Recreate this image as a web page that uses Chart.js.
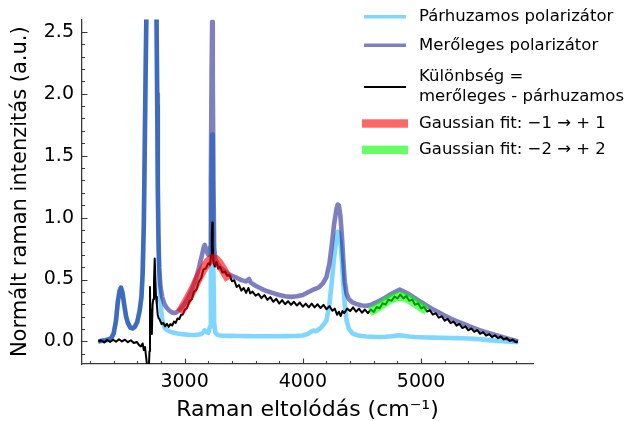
<!DOCTYPE html>
<html><head><meta charset="utf-8">
<script src="https://cdn.jsdelivr.net/npm/chart.js@4.4.1/dist/chart.umd.min.js"></script>
<style>html,body{margin:0;padding:0;background:#fff}canvas{display:block}</style>
</head><body>
<canvas id="c" width="631" height="421"></canvas>
<script>
// Raman shift (cm^-1) for the two polarizer spectra
const ramanShift = [2270,2300,2330,2360,2380,2400,2420,2435,2450,2462,2475,2490,2505,2520,2540,2560,2580,2600,2620,2635,
  2645,2655,2662,2668,2676,2690,2720,2750,2762,2768,2773,2779,2785,2795,2810,2830,2850,2870,2890,2910,
  2930,2950,2970,3000,3030,3060,3090,3120,3145,3160,3170,3185,3200,3215,3222,3228,3233,3238,3244,3250,
  3260,3280,3300,3330,3360,3400,3440,3480,3520,3545,3560,3600,3650,3700,3750,3800,3850,3900,3950,4000,
  4040,4070,4090,4110,4140,4170,4200,4225,4245,4265,4285,4295,4305,4318,4330,4342,4355,4370,4390,4420,
  4460,4500,4540,4580,4620,4660,4700,4750,4790,4820,4850,4900,4950,5000,5050,5100,5150,5200,5250,5300,
  5350,5400,5450,5500,5550,5600,5650,5700,5750,5800,5820];
const parallel = [0.000,0.005,0.010,0.018,0.028,0.065,0.17,0.32,0.41,0.435,0.39,0.29,0.20,0.15,0.112,0.105,0.12,0.16,0.25,0.36,
  0.55,0.95,1.5,2.0,2.6,3.6,4.3,3.6,2.6,1.9,1.2,0.75,0.52,0.32,0.18,0.11,0.092,0.082,0.075,0.07,
  0.066,0.063,0.06,0.057,0.054,0.052,0.053,0.056,0.062,0.075,0.09,0.075,0.07,0.12,0.55,1.25,1.67,1.25,0.55,0.15,
  0.07,0.052,0.048,0.046,0.045,0.045,0.044,0.044,0.043,0.044,0.043,0.042,0.042,0.042,0.042,0.042,0.043,0.044,0.045,0.048,
  0.06,0.08,0.088,0.082,0.10,0.13,0.17,0.30,0.48,0.68,0.84,0.885,0.88,0.80,0.66,0.47,0.29,0.17,0.10,0.065,
  0.05,0.044,0.04,0.038,0.036,0.036,0.038,0.042,0.047,0.05,0.046,0.04,0.036,0.034,0.032,0.031,0.03,0.029,0.028,0.027,
  0.026,0.024,0.021,0.018,0.013,0.009,0.005,0.002,-0.002,-0.005,-0.006];
const perpendicular = [0.000,0.005,0.010,0.018,0.028,0.065,0.17,0.32,0.41,0.435,0.39,0.29,0.20,0.15,0.112,0.105,0.12,0.16,0.25,0.36,
  0.55,0.95,1.5,2.0,2.6,3.5,4.4,3.8,2.7,2.0,1.3,0.85,0.6,0.45,0.36,0.30,0.27,0.25,0.236,0.23,
  0.234,0.248,0.268,0.305,0.355,0.415,0.49,0.59,0.69,0.755,0.78,0.73,0.70,0.76,1.3,2.15,2.58,2.15,1.3,0.76,
  0.66,0.625,0.60,0.575,0.55,0.53,0.515,0.495,0.485,0.505,0.475,0.45,0.425,0.405,0.39,0.375,0.365,0.36,0.365,0.375,
  0.395,0.41,0.42,0.425,0.44,0.47,0.52,0.63,0.78,0.95,1.07,1.105,1.10,1.01,0.86,0.66,0.48,0.385,0.34,0.315,
  0.30,0.29,0.288,0.297,0.315,0.335,0.355,0.385,0.405,0.418,0.405,0.38,0.35,0.318,0.288,0.26,0.235,0.208,0.185,0.165,
  0.145,0.125,0.107,0.09,0.074,0.06,0.047,0.033,0.019,0.006,0.0];
// Difference spectrum (perpendicular - parallel)
const diffShift = [2270,2295,2320,2345,2370,2395,2420,2445,2470,2495,2520,2545,2570,2595,2615,2630,2645,2655,2665,2675,
  2683,2690,2697,2703,2707,2712,2718,2723,2729,2735,2741,2747,2752,2758,2765,2772,2780,2790,2805,2820,
  2835,2850,2865,2880,2895,2910,2925,2940,2955,2970,2985,3000,3020,3040,3060,3080,3100,3120,3140,3160,
  3180,3200,3215,3225,3230,3234,3238,3243,3255,3270,3285,3300,3320,3340,3360,3380,3400,3420,3440,3460,
  3480,3500,3520,3540,3555,3575,3600,3625,3650,3675,3700,3725,3750,3775,3800,3825,3850,3875,3900,3925,
  3950,3975,4000,4025,4050,4075,4100,4125,4150,4175,4200,4225,4250,4270,4290,4305,4320,4335,4350,4375,
  4400,4425,4450,4475,4500,4525,4550,4575,4600,4625,4650,4675,4700,4725,4750,4775,4800,4825,4850,4875,
  4900,4925,4950,4975,5000,5025,5050,5075,5100,5125,5150,5175,5200,5225,5250,5275,5300,5325,5350,5375,
  5400,5425,5450,5475,5500,5525,5550,5575,5600,5625,5650,5675,5700,5725,5750,5775,5800,5820];
const difference = [0.000,0.010,-0.008,0.012,-0.004,0.014,-0.002,0.018,0.000,0.014,-0.006,0.010,-0.012,-0.004,-0.030,-0.040,-0.016,-0.070,-0.045,-0.13,
  -0.20,-0.32,-0.22,-0.08,0.44,0.12,0.25,0.06,0.30,0.34,0.48,0.67,0.52,0.36,0.30,0.22,0.19,0.175,0.14,0.15,
  0.122,0.142,0.118,0.14,0.128,0.16,0.15,0.186,0.18,0.215,0.218,0.255,0.27,0.322,0.34,0.402,0.42,0.482,0.51,0.582,
  0.59,0.632,0.618,0.70,0.86,0.96,0.78,0.645,0.605,0.642,0.588,0.604,0.556,0.565,0.530,0.535,0.486,0.494,0.44,0.455,
  0.41,0.432,0.392,0.432,0.388,0.402,0.37,0.384,0.35,0.374,0.336,0.358,0.32,0.344,0.306,0.334,0.30,0.325,0.296,0.32,
  0.29,0.314,0.28,0.305,0.276,0.305,0.275,0.30,0.27,0.295,0.26,0.285,0.248,0.265,0.215,0.24,0.205,0.245,0.228,0.265,
  0.245,0.275,0.24,0.265,0.232,0.258,0.228,0.258,0.238,0.278,0.268,0.308,0.298,0.338,0.328,0.362,0.348,0.378,0.348,0.366,
  0.328,0.338,0.297,0.308,0.268,0.278,0.242,0.252,0.217,0.228,0.192,0.203,0.168,0.182,0.148,0.161,0.128,0.142,0.108,0.122,
  0.09,0.105,0.078,0.091,0.062,0.075,0.047,0.06,0.035,0.05,0.027,0.04,0.016,0.028,0.004,0.016,-0.004,0.0];
// Gaussian fits
const fit1Shift = [2960,2990,3020,3050,3080,3110,3140,3170,3200,3230,3260,3290,3320,3350,3375];
const fit1 = [0.235,0.28,0.33,0.385,0.44,0.50,0.555,0.605,0.645,0.67,0.665,0.635,0.59,0.54,0.50];
const fit2Shift = [4565,4600,4640,4680,4720,4760,4800,4830,4860,4900,4940,4980,5020,5048];
const fit2 = [0.24,0.255,0.28,0.305,0.33,0.35,0.362,0.365,0.358,0.34,0.315,0.29,0.265,0.25];

const seriesLabels = ["Párhuzamos polarizátor", "Merőleges polarizátor", ["Különbség =", "merőleges - párhuzamos"],
  "Gaussian fit: \u22121 \u2192 + 1", "Gaussian fit: \u22122 \u2192 + 2"];
const xMajorTicks = [3000, 4000, 5000];
const xMinorTicks = [2200,2400,2600,2800,3200,3400,3600,3800,4200,4400,4600,4800,5200,5400,5600,5800];
const yMajorTicks = [0, 0.5, 1.0, 1.5, 2.0, 2.5];
const yMinorTicks = [-0.1,0.1,0.2,0.3,0.4,0.6,0.7,0.8,0.9,1.1,1.2,1.3,1.4,1.6,1.7,1.8,1.9,2.1,2.2,2.3,2.4];
const xTitle = "Raman eltolódás (cm\u207B\u00B9)";
const yTitle = "Normált raman intenzitás (a.u.)";

const pts = (xs, ys) => xs.map((x, i) => ({x: x, y: ys[i]}));
const FONT = 'DejaVu Sans';
Chart.defaults.font.family = FONT;
Chart.defaults.color = '#000';

const legendPlugin = {
  id: 'sideLegend',
  afterDraw(chart) {
    const ctx = chart.ctx;
    const ds = chart.data.datasets;
    const rows = [
      {i: 0, sy: 16.7, ty: [16.7]},
      {i: 1, sy: 45.3, ty: [45.3]},
      {i: 2, sy: 87, ty: [77, 97]},
      {i: 3, sy: 123.5, ty: [123.5], box: true},
      {i: 4, sy: 149.8, ty: [149.8], box: true}
    ];
    ctx.save();
    ctx.font = '16.5px "' + FONT + '"';
    ctx.textBaseline = 'middle';
    ctx.textAlign = 'left';
    rows.forEach(r => {
      const d = ds[r.i];
      if (r.box) {
        ctx.fillStyle = d.borderColor;
        ctx.fillRect(362, r.sy - 4.2, 46, 8.4);
      } else {
        ctx.strokeStyle = d.borderColor;
        ctx.lineWidth = d.legendWidth;
        ctx.beginPath(); ctx.moveTo(364, r.sy); ctx.lineTo(406, r.sy); ctx.stroke();
      }
      const lab = Array.isArray(d.label) ? d.label : [d.label];
      ctx.fillStyle = '#000';
      lab.forEach((t, k) => ctx.fillText(t, 419, r.ty[k]));
    });
    ctx.restore();
  }
};

const tickPlugin = {
  id: 'inTicks',
  afterDraw(chart) {
    const {ctx, chartArea: a, scales: {x, y}} = chart;
    ctx.save();
    ctx.strokeStyle = '#3a3a3a';
    ctx.lineWidth = 1.1;
    ctx.beginPath();
    xMajorTicks.forEach(v => { const p = Math.round(x.getPixelForValue(v)) + 0.5; ctx.moveTo(p, a.bottom); ctx.lineTo(p, a.bottom - 5.5); });
    xMinorTicks.forEach(v => { const p = Math.round(x.getPixelForValue(v)) + 0.5; ctx.moveTo(p, a.bottom); ctx.lineTo(p, a.bottom - 3); });
    yMajorTicks.forEach(v => { const p = Math.round(y.getPixelForValue(v)) + 0.5; ctx.moveTo(a.left, p); ctx.lineTo(a.left + 5.5, p); });
    yMinorTicks.forEach(v => { const p = Math.round(y.getPixelForValue(v)) + 0.5; ctx.moveTo(a.left, p); ctx.lineTo(a.left + 3, p); });
    ctx.stroke();
    ctx.restore();
  }
};

const lineDs = (label, data, color, width, order, extra) => Object.assign({
  label, data, borderColor: color, backgroundColor: color, borderWidth: width,
  pointRadius: 0, tension: 0, fill: false, order, clip: 0,
  borderJoinStyle: 'round', borderCapStyle: 'butt', legendWidth: width
}, extra || {});

new Chart(document.getElementById('c'), {
  type: 'line',
  data: {
    datasets: [
      lineDs(seriesLabels[0], pts(ramanShift, parallel), 'rgba(0,176,255,0.5)', 4.6, 5, {legendWidth: 3.6}),
      lineDs(seriesLabels[1], pts(ramanShift, perpendicular), 'rgba(0,0,128,0.5)', 4.6, 4, {legendWidth: 3.6}),
      lineDs(seriesLabels[2], pts(diffShift, difference), '#000000', 2.0, 3, {legendWidth: 1.8}),
      lineDs(seriesLabels[3], pts(fit1Shift, fit1), 'rgba(255,0,0,0.6)', 9, 2),
      lineDs(seriesLabels[4], pts(fit2Shift, fit2), 'rgba(0,255,0,0.6)', 9, 1)
    ]
  },
  options: {
    responsive: false,
    animation: false,
    devicePixelRatio: 1,
    layout: {padding: {left: 0, right: 98, top: 17, bottom: 0}},
    plugins: {legend: {display: false}, tooltip: {enabled: false}},
    scales: {
      x: {
        type: 'linear', min: 2132, max: 5947,
        grid: {display: false, drawTicks: false},
        border: {display: true, color: '#3a3a3a', width: 1.3},
        afterBuildTicks: s => { s.ticks = xMajorTicks.map(v => ({value: v})); },
        afterFit: s => { s.height = 57; },
        ticks: {font: {size: 19}, padding: 7, maxRotation: 0, callback: v => String(v)},
        title: {display: true, text: xTitle, font: {size: 22}, padding: {top: 0, bottom: -2}}
      },
      y: {
        type: 'linear', min: -0.182, max: 2.6,
        grid: {display: false, drawTicks: false},
        border: {display: true, color: '#3a3a3a', width: 1.3},
        afterBuildTicks: s => { s.ticks = yMajorTicks.map(v => ({value: v})); },
        afterFit: s => { s.width = 82; },
        ticks: {font: {size: 19}, padding: 8, callback: v => Number(v).toFixed(1)},
        title: {display: true, text: yTitle, font: {size: 21}, padding: {top: 8, bottom: 0}}
      }
    }
  },
  plugins: [tickPlugin, legendPlugin]
});
</script>
</body></html>
